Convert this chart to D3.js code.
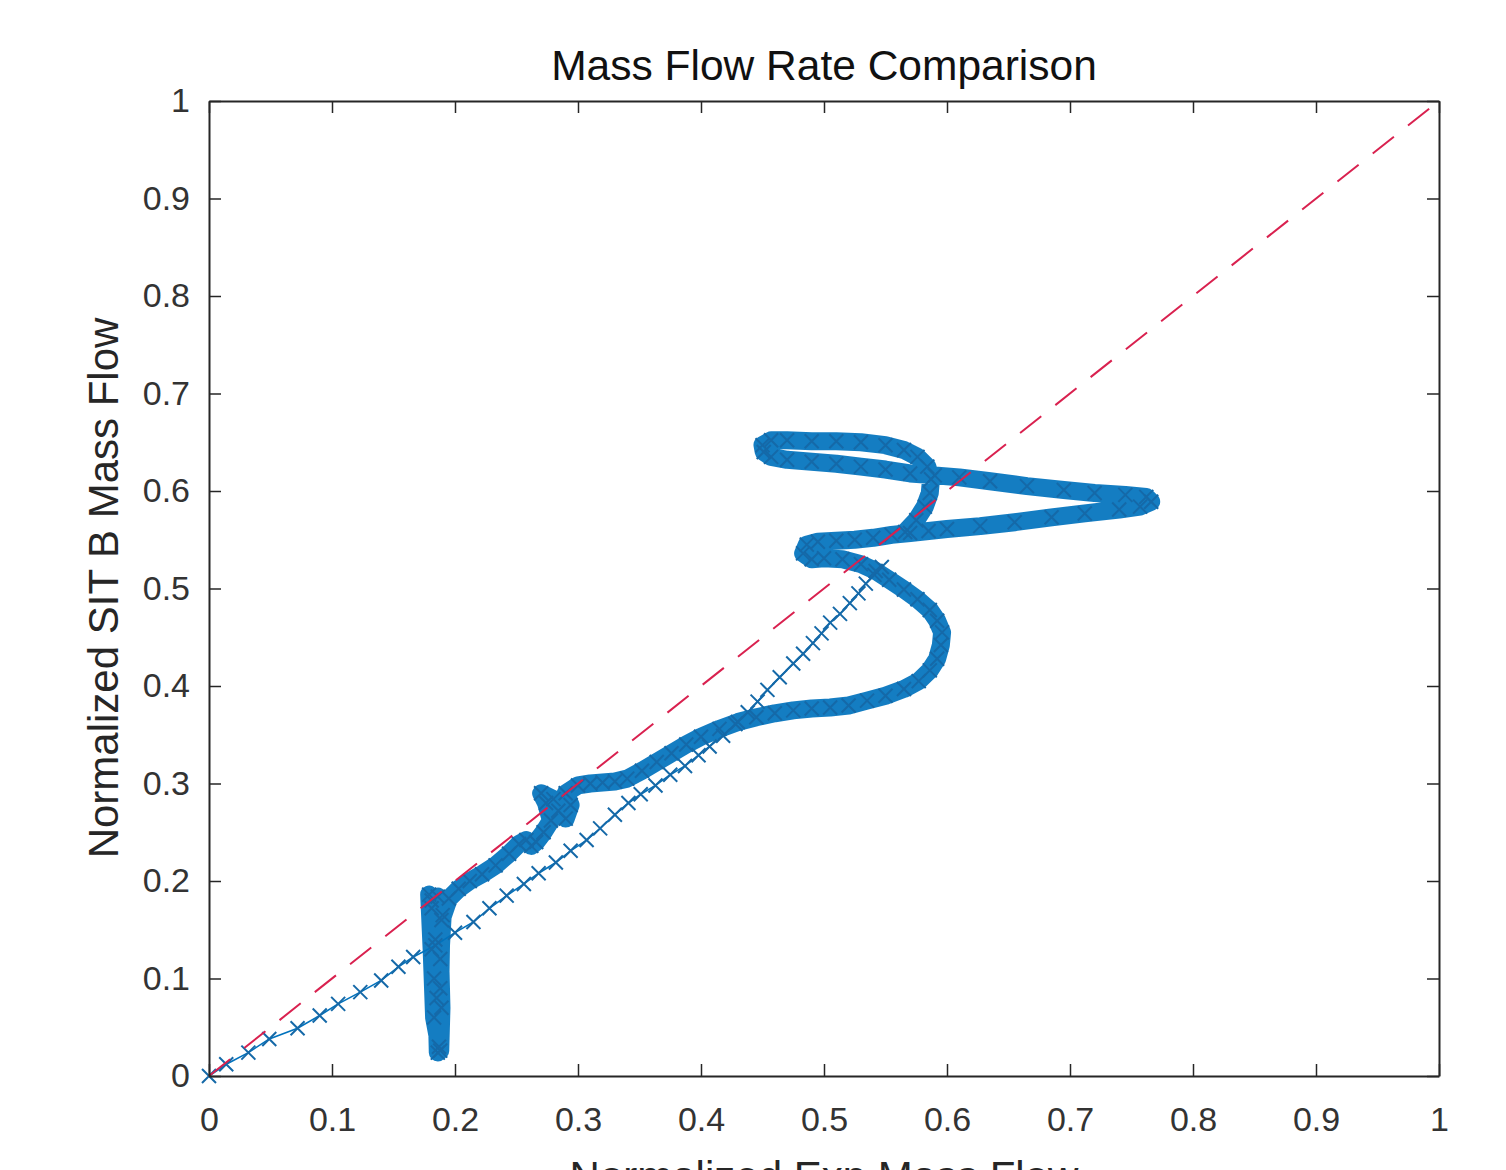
<!DOCTYPE html>
<html>
<head>
<meta charset="utf-8">
<script src="https://cdn.jsdelivr.net/npm/d3@7"></script>
<style>
body { margin: 0; background: #fff; }
text { font-family: "Liberation Sans", Arial, Helvetica, sans-serif; }
</style>
</head>
<body>
<div id="chart"></div>
<script>
// axis ticks
var xTicks = [0, 0.1, 0.2, 0.3, 0.4, 0.5, 0.6, 0.7, 0.8, 0.9, 1];
var yTicks = [0, 0.1, 0.2, 0.3, 0.4, 0.5, 0.6, 0.7, 0.8, 0.9, 1];

// y = x reference line
var refX = [0, 1];
var refY = [0, 1];

// sparse ramp run
var rampX = [0, 0.014, 0.032, 0.049, 0.072, 0.090, 0.105, 0.123, 0.140, 0.154, 0.166, 0.184, 0.200, 0.215, 0.228, 0.242, 0.256, 0.268, 0.282, 0.294, 0.307, 0.318, 0.330, 0.341, 0.351, 0.363, 0.375, 0.387, 0.398, 0.407, 0.418, 0.428, 0.438, 0.446, 0.454, 0.464, 0.475, 0.483, 0.491, 0.498, 0.505, 0.513, 0.521, 0.528, 0.534, 0.541, 0.547];
var rampY = [0, 0.012, 0.024, 0.038, 0.049, 0.062, 0.074, 0.086, 0.098, 0.112, 0.122, 0.134, 0.147, 0.158, 0.172, 0.185, 0.197, 0.208, 0.219, 0.231, 0.242, 0.254, 0.268, 0.280, 0.289, 0.298, 0.309, 0.318, 0.329, 0.338, 0.349, 0.361, 0.373, 0.384, 0.396, 0.409, 0.423, 0.433, 0.444, 0.454, 0.465, 0.474, 0.485, 0.495, 0.505, 0.514, 0.522];

// dense run
var runX = [0.186, 0.185, 0.184, 0.181, 0.179, 0.181, 0.183, 0.188, 0.189, 0.188, 0.190, 0.186, 0.181, 0.183, 0.187, 0.188, 0.189,
  0.195, 0.203, 0.212, 0.222, 0.233, 0.244, 0.252, 0.258, 0.262, 0.266, 0.272, 0.278,
  0.274, 0.270, 0.280, 0.284, 0.290, 0.294, 0.290, 0.300,
  0.310, 0.320, 0.330, 0.340, 0.352, 0.364, 0.376, 0.388, 0.400, 0.415, 0.430, 0.445, 0.460, 0.475, 0.490, 0.505, 0.520, 0.535, 0.550, 0.565, 0.577, 0.586, 0.592, 0.595, 0.596,
  0.592, 0.586, 0.576, 0.565, 0.553, 0.542, 0.530, 0.515, 0.500, 0.490, 0.483, 0.486, 0.495, 0.510, 0.525, 0.540, 0.555, 0.570, 0.585, 0.600,
  0.627, 0.655, 0.685, 0.712, 0.740, 0.757, 0.766, 0.762, 0.745, 0.720, 0.695, 0.665, 0.635, 0.610, 0.590,
  0.570, 0.550, 0.530, 0.510, 0.490, 0.470, 0.457, 0.451, 0.450, 0.457, 0.470, 0.490, 0.510, 0.530, 0.550, 0.565, 0.576, 0.584, 0.587, 0.586, 0.582, 0.575, 0.566];
var runY = [0.024, 0.080, 0.140, 0.180, 0.186, 0.130, 0.060, 0.026, 0.070, 0.120, 0.165, 0.184, 0.172, 0.100, 0.030, 0.090, 0.160,
  0.182, 0.192, 0.200, 0.207, 0.216, 0.228, 0.238, 0.242, 0.236, 0.240, 0.250, 0.262,
  0.280, 0.290, 0.284, 0.272, 0.264, 0.278, 0.290, 0.298,
  0.300, 0.301, 0.302, 0.305, 0.313, 0.322, 0.331, 0.340, 0.348, 0.356, 0.363, 0.368, 0.372, 0.375, 0.377, 0.378, 0.380, 0.385, 0.390, 0.397, 0.405, 0.416, 0.428, 0.442, 0.455,
  0.467, 0.478, 0.489, 0.499, 0.509, 0.518, 0.525, 0.530, 0.531, 0.530, 0.536, 0.545, 0.548, 0.549, 0.550, 0.552, 0.555, 0.557, 0.559, 0.561,
  0.564, 0.568, 0.573, 0.577, 0.581, 0.584, 0.589, 0.594, 0.596, 0.598, 0.601, 0.605, 0.610, 0.614, 0.616,
  0.618, 0.622, 0.625, 0.628, 0.630, 0.632, 0.635, 0.640, 0.647, 0.652, 0.652, 0.651, 0.651, 0.650, 0.647, 0.642, 0.635, 0.625, 0.612, 0.598, 0.584, 0.570, 0.558];

var width = 1506;
var height = 1170;
var blue = "#0072BD";

var svg = d3.select("#chart").append("svg")
  .attr("width", width)
  .attr("height", height)
  .attr("xmlns", "http://www.w3.org/2000/svg");

svg.append("rect").attr("width", width).attr("height", height).attr("fill", "#fff");

var x = d3.scaleLinear().domain([0, 1]).range([209, 1439]);
var y = d3.scaleLinear().domain([0, 1]).range([1076, 101]);

var toPoints = function(xs, ys) {
  return xs.map(function(d, i) { return [d, ys[i]]; });
};

var line = d3.line()
  .x(function(d) { return x(d[0]); })
  .y(function(d) { return y(d[1]); });

var ramp = toPoints(rampX, rampY);
var run = toPoints(runX, runY);

// dense run: markers overlap so much they form a solid band
svg.append("path")
  .attr("d", line(run))
  .attr("fill", "none")
  .attr("stroke", blue)
  .attr("stroke-width", 18)
  .attr("stroke-linejoin", "round")
  .attr("stroke-linecap", "round")
  .attr("opacity", 0.92);

svg.append("path")
  .attr("d", line(ramp))
  .attr("fill", "none")
  .attr("stroke", blue)
  .attr("stroke-width", 1.6);

var s = 7;
var cross = "M" + (-s) + "," + (-s) + "L" + s + "," + s + "M" + (-s) + "," + s + "L" + s + "," + (-s);

svg.append("g").selectAll("path")
  .data(ramp.concat(run))
  .enter()
  .append("path")
  .attr("transform", function(d) { return "translate(" + x(d[0]) + "," + y(d[1]) + ")"; })
  .attr("d", cross)
  .attr("fill", "none")
  .attr("stroke", "#1569a8")
  .attr("stroke-width", 2);

// dashed y = x
svg.append("path")
  .attr("d", line(toPoints(refX, refY)))
  .attr("fill", "none")
  .attr("stroke", "#d9214f")
  .attr("stroke-width", 2)
  .attr("stroke-dasharray", "27,18");

// axes, ticks pointing inward on all four sides
var fmt = d3.format("~g");

function styleAxis(g) {
  g.select(".domain").attr("stroke", "#262626").attr("stroke-width", 2);
  g.selectAll(".tick line").attr("stroke", "#262626").attr("stroke-width", 1.5);
  g.selectAll(".tick text")
    .attr("fill", "#333")
    .style("font-size", "34px")
    .style("font-family", "'Liberation Sans', Arial, sans-serif");
}

svg.append("g")
  .attr("transform", "translate(0,1076)")
  .call(d3.axisBottom(x).tickValues(xTicks).tickFormat(fmt).tickSizeInner(-12).tickSizeOuter(0).tickPadding(31))
  .call(styleAxis);

svg.append("g")
  .attr("transform", "translate(0,101)")
  .call(d3.axisTop(x).tickValues(xTicks).tickFormat("").tickSizeInner(-12).tickSizeOuter(0))
  .call(styleAxis);

svg.append("g")
  .attr("transform", "translate(209,0)")
  .call(d3.axisLeft(y).tickValues(yTicks).tickFormat(fmt).tickSizeInner(-12).tickSizeOuter(0).tickPadding(19))
  .call(styleAxis);

svg.append("g")
  .attr("transform", "translate(1439,0)")
  .call(d3.axisRight(y).tickValues(yTicks).tickFormat("").tickSizeInner(-12).tickSizeOuter(0))
  .call(styleAxis);

// title and labels (x label is cut by the bottom edge, as in the original)
svg.append("text")
  .attr("x", 824)
  .attr("y", 80)
  .attr("text-anchor", "middle")
  .attr("fill", "#111")
  .style("font-size", "42.5px")
  .text("Mass Flow Rate Comparison");

svg.append("text")
  .attr("x", 824)
  .attr("y", 1191)
  .attr("text-anchor", "middle")
  .attr("fill", "#262626")
  .style("font-size", "42px")
  .text("Normalized Exp Mass Flow");

svg.append("text")
  .attr("transform", "translate(118,588) rotate(-90)")
  .attr("text-anchor", "middle")
  .attr("fill", "#262626")
  .style("font-size", "42px")
  .text("Normalized SIT B Mass Flow");
</script>
</body>
</html>
